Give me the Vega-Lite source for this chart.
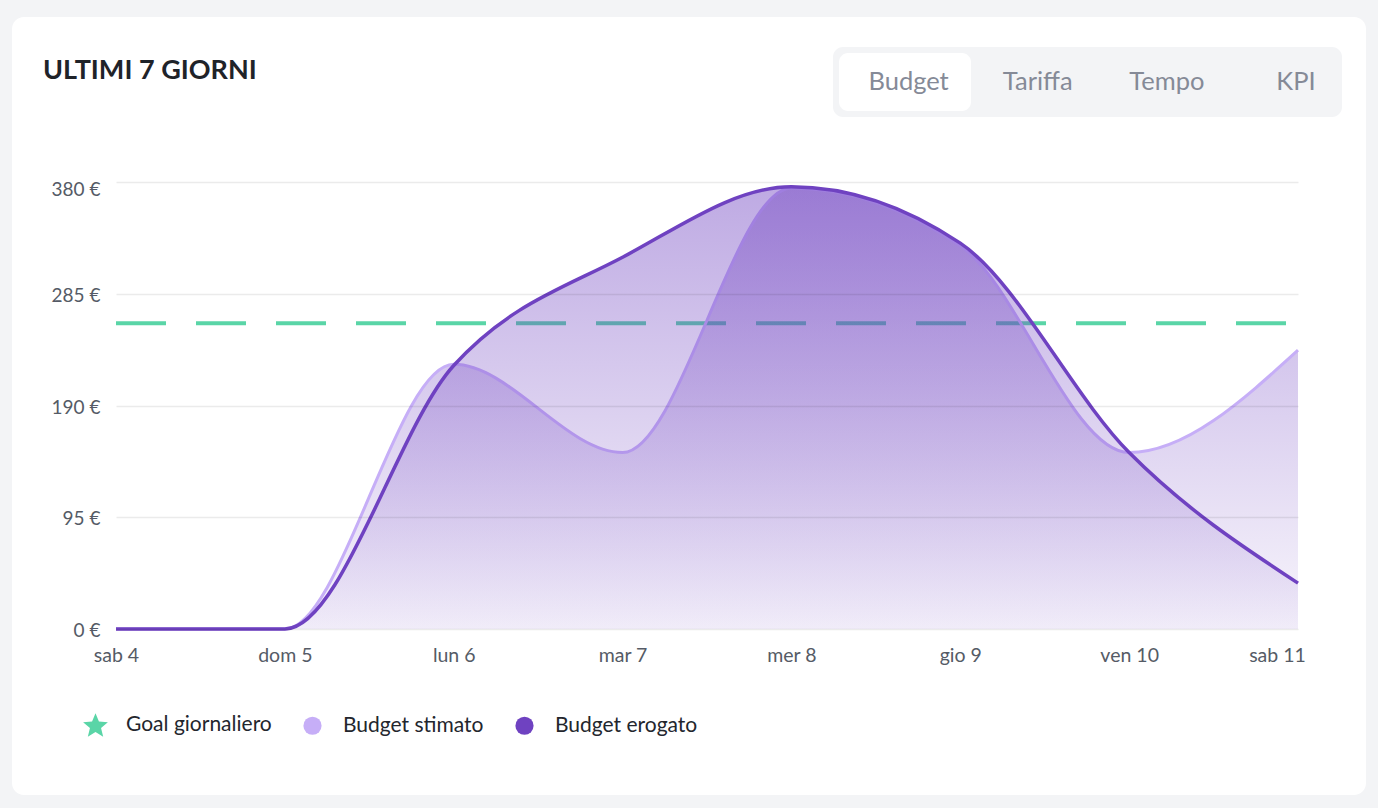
{
  "$schema": "https://vega.github.io/schema/vega-lite/v6.json",
  "width": 1182,
  "height": 447,
  "autosize": {"type": "none"},
  "padding": {"left": 116, "top": 182, "right": 80, "bottom": 179},
  "background": "#f3f4f6",
  "config": {"font": "Lato", "view": {"stroke": null}},
  "datasets": {
    "budget": [
      {"day": "sab 4", "series": "Budget stimato", "value": 0},
      {"day": "dom 5", "series": "Budget stimato", "value": 0},
      {"day": "lun 6", "series": "Budget stimato", "value": 225},
      {"day": "mar 7", "series": "Budget stimato", "value": 150},
      {"day": "mer 8", "series": "Budget stimato", "value": 375},
      {"day": "gio 9", "series": "Budget stimato", "value": 326},
      {"day": "ven 10", "series": "Budget stimato", "value": 150},
      {"day": "sab 11", "series": "Budget stimato", "value": 237},
      {"day": "sab 4", "series": "Budget erogato", "value": 0},
      {"day": "dom 5", "series": "Budget erogato", "value": 0},
      {"day": "lun 6", "series": "Budget erogato", "value": 224},
      {"day": "mar 7", "series": "Budget erogato", "value": 316},
      {"day": "mer 8", "series": "Budget erogato", "value": 376},
      {"day": "gio 9", "series": "Budget erogato", "value": 328},
      {"day": "ven 10", "series": "Budget erogato", "value": 150},
      {"day": "sab 11", "series": "Budget erogato", "value": 39}
    ],
    "goal": [{"series": "Goal giornaliero", "value": 260}],
    "tabs": [
      {"tab": "Budget", "selected": true},
      {"tab": "Tariffa", "selected": false},
      {"tab": "Tempo", "selected": false},
      {"tab": "KPI", "selected": false}
    ],
    "heading": [{"text": "ULTIMI 7 GIORNI"}]
  },
  "layer": [
    {
      "layer": [
        {
          "data": {"name": "heading"},
          "mark": {"type": "rect", "fill": "white", "cornerRadius": 12, "xOffset": -104, "x2Offset": 68},
          "encoding": {
            "x": {
              "datum": "sab 4",
              "type": "ordinal",
              "scale": {"type": "point", "padding": 0, "domain": ["sab 4", "dom 5", "lun 6", "mar 7", "mer 8", "gio 9", "ven 10", "sab 11"]},
              "axis": {
                "title": null,
                "domain": false,
                "ticks": false,
                "labelPadding": 17,
                "labelFontSize": 19.5,
                "labelColor": "#555b66",
                "labelAngle": 0,
                "labelAlign": "center",
                "grid": false,
                "zindex": 1,
                "labelOffset": {"condition": {"test": "datum.value === 'sab 11'", "value": -21}, "value": 0}
              }
            },
            "x2": {"datum": "sab 11"},
            "y": {
              "datum": 520.3,
              "type": "quantitative",
              "scale": {"domain": [0, 380], "nice": false, "zero": true},
              "axis": {
                "values": [0, 95, 190, 285, 380],
                "labelExpr": "datum.value + ' €'",
                "title": null,
                "domain": false,
                "ticks": false,
                "labelPadding": 16,
                "labelFontSize": 19,
                "labelColor": "#555b66",
                "grid": true,
                "gridColor": "rgba(0,0,0,0.08)",
                "gridWidth": 1.5,
                "zindex": 1,
                "labelOffset": {"condition": {"test": "datum.value === 380", "value": 7}, "value": 1.5}
              }
            },
            "y2": {"datum": -141.1}
          }
        },
        {
          "data": {"name": "goal"},
          "mark": {"type": "rule", "strokeWidth": 4, "strokeDash": [50, 30], "strokeDashOffset": 68},
          "encoding": {
            "y": {"field": "value", "type": "quantitative"},
            "color": {
              "field": "series",
              "type": "nominal",
              "scale": {
                "domain": ["Goal giornaliero", "Budget stimato", "Budget erogato"],
                "range": ["#5ad5a7", "#c6aef7", "#6f42c1"]
              },
              "legend": {
                "orient": "none",
                "legendX": -31,
                "legendY": 532,
                "direction": "horizontal",
                "title": null,
                "labelFontSize": 21,
                "labelColor": "#23262d",
                "symbolSize": 330,
                "symbolType": "circle",
                "labelOffset": 20,
                "columnPadding": 30,
                "encode": {
                  "symbols": {
                    "update": {
                      "shape": {"signal": "datum.value === 'Goal giornaliero' ? 'M0,-1.29L0.377,-0.38L1.365,-0.3L0.611,0.335L0.845,1.297L0,0.79L-0.845,1.297L-0.611,0.335L-1.365,-0.3L-0.377,-0.38Z' : 'circle'"},
                      "fill": {"scale": "color", "field": "value"},
                      "fillOpacity": {"value": 1},
                      "strokeWidth": {"value": 0},
                      "opacity": {"value": 1}
                    }
                  }
                }
              }
            }
          }
        },
        {
          "data": {"name": "budget"},
          "transform": [{"filter": "datum.series === 'Budget stimato'"}],
          "mark": {
            "type": "area",
            "interpolate": "monotone",
            "fill": {
              "gradient": "linear",
              "x1": 0, "y1": 0, "x2": 0, "y2": 1,
              "stops": [
                {"offset": 0, "color": "rgba(111,66,193,0.45)"},
                {"offset": 1, "color": "rgba(111,66,193,0.05)"}
              ]
            }
          },
          "encoding": {
            "x": {"field": "day", "type": "ordinal"},
            "y": {"field": "value", "type": "quantitative"}
          }
        },
        {
          "data": {"name": "budget"},
          "transform": [{"filter": "datum.series === 'Budget stimato'"}],
          "mark": {"type": "line", "interpolate": "monotone", "strokeWidth": 3},
          "encoding": {
            "x": {"field": "day", "type": "ordinal"},
            "y": {"field": "value", "type": "quantitative"},
            "color": {"field": "series", "type": "nominal"}
          }
        },
        {
          "data": {"name": "budget"},
          "transform": [{"filter": "datum.series === 'Budget erogato'"}],
          "mark": {
            "type": "area",
            "interpolate": "monotone",
            "fill": {
              "gradient": "linear",
              "x1": 0, "y1": 0, "x2": 0, "y2": 1,
              "stops": [
                {"offset": 0, "color": "rgba(111,66,193,0.45)"},
                {"offset": 1, "color": "rgba(111,66,193,0.05)"}
              ]
            }
          },
          "encoding": {
            "x": {"field": "day", "type": "ordinal"},
            "y": {"field": "value", "type": "quantitative"}
          }
        },
        {
          "data": {"name": "budget"},
          "transform": [{"filter": "datum.series === 'Budget erogato'"}],
          "mark": {"type": "line", "interpolate": "monotone", "strokeWidth": 3.5},
          "encoding": {
            "x": {"field": "day", "type": "ordinal"},
            "y": {"field": "value", "type": "quantitative"},
            "color": {"field": "series", "type": "nominal"}
          }
        },
        {
          "data": {"name": "heading"},
          "mark": {"type": "text", "align": "left", "baseline": "alphabetic", "dx": -73, "fontSize": 27, "fontWeight": "bold", "color": "#1f2329"},
          "encoding": {
            "x": {"datum": "sab 4", "type": "ordinal"},
            "y": {"datum": 467.6, "type": "quantitative"},
            "text": {"field": "text"}
          }
        }
      ]
    },
    {
      "data": {"name": "tabs"},
      "layer": [
        {
          "transform": [{"filter": "datum.selected"}],
          "mark": {"type": "rect", "fill": "#f3f4f6", "cornerRadius": 10, "xOffset": -75.6, "x2Offset": 46},
          "encoding": {
            "x": {"datum": "Budget", "type": "nominal", "scale": {"type": "point", "padding": 0, "domain": ["Budget", "Tariffa", "Tempo", "KPI"], "range": [792.6, 1180]}, "axis": null},
            "x2": {"datum": "KPI"},
            "y": {"datum": 494.8, "type": "quantitative"},
            "y2": {"datum": 435.2}
          }
        },
        {
          "transform": [{"filter": "datum.selected"}],
          "mark": {"type": "rect", "fill": "white", "cornerRadius": 9, "xOffset": -69.6, "x2Offset": 62.4},
          "encoding": {
            "x": {"field": "tab", "type": "nominal", "axis": null},
            "x2": {"field": "tab"},
            "y": {"datum": 489.7, "type": "quantitative"},
            "y2": {"datum": 440.4}
          }
        },
        {
          "mark": {"type": "text", "fontSize": 25.5, "baseline": "middle", "color": "#858a97"},
          "encoding": {
            "x": {"field": "tab", "type": "nominal", "axis": null},
            "y": {"datum": 465, "type": "quantitative"},
            "text": {"field": "tab"}
          }
        }
      ]
    }
  ],
  "resolve": {"scale": {"x": "independent"}}
}
